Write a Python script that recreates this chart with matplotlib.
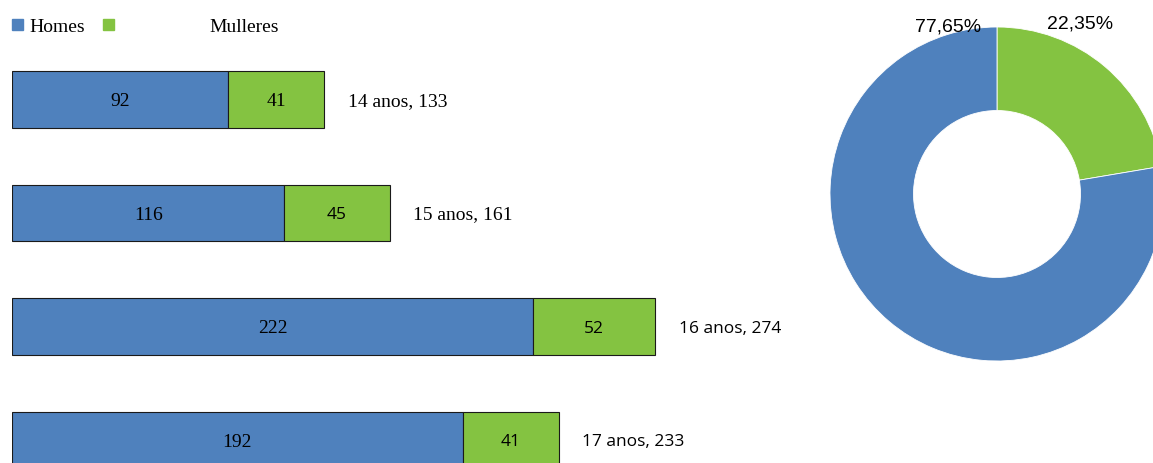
import matplotlib
matplotlib.use('Agg')
import matplotlib.pyplot as plt
from matplotlib.patches import Rectangle

# data
ages = ['14 anos', '15 anos', '16 anos', '17 anos']
homes = [92, 116, 222, 192]
mulleres = [41, 45, 52, 41]
series_names = ['Homes', 'Mulleres']

# style
blue = '#4F81BD'
green = '#84C341'
serif = 'Liberation Serif'
sans = 'Open Sans'
green_label_fonts = [serif, sans, sans, sans]
cat_label_fonts = [serif, serif, sans, sans]

W, H = 1153, 463
fig = plt.figure(figsize=(W / 100, H / 100), dpi=100)

# stacked bars
px_per_unit = 643 / max(h + m for h, m in zip(homes, mulleres))
ax = fig.add_axes([12 / W, 0, 800 / W, 1])
ax.set_xlim(0, 800 / px_per_unit)
ax.set_ylim((H - 99.5) / 113.5, -99.5 / 113.5)
ax.axis('off')

ypos = list(range(len(ages)))
ax.barh(ypos, homes, height=0.5, color=blue, edgecolor='#1a1a1a', linewidth=0.8)
ax.barh(ypos, mulleres, left=homes, height=0.5, color=green, edgecolor='#1a1a1a', linewidth=0.8)

for i, (h, m) in enumerate(zip(homes, mulleres)):
    ax.text(h / 2, i, str(h), ha='center', va='center_baseline', fontsize=14, family=serif)
    ax.text(h + m / 2, i, str(m), ha='center', va='center_baseline',
            fontsize=14 if green_label_fonts[i] == serif else 12.5, family=green_label_fonts[i])
    ax.annotate('{}, {}'.format(ages[i], h + m), (h + m, i), xytext=(17, 0), textcoords='offset points',
                ha='left', va='center_baseline', fontsize=14 if cat_label_fonts[i] == serif else 12.5,
                family=cat_label_fonts[i])

# legend drawn by hand
fig.patches.append(Rectangle((12 / W, 1 - 30 / H), 11 / W, 11 / H, transform=fig.transFigure, color=blue))
fig.patches.append(Rectangle((103 / W, 1 - 30 / H), 11 / W, 11 / H, transform=fig.transFigure, color=green))
fig.text(29 / W, 1 - 25 / H, series_names[0], ha='left', va='center_baseline', fontsize=14, family=serif)
fig.text(209 / W, 1 - 25 / H, series_names[1], ha='left', va='center_baseline', fontsize=14, family=serif)

# donut with the overall shares
tot_h = sum(homes)
tot_m = sum(mulleres)
shares = [tot_m / (tot_h + tot_m) * 100, tot_h / (tot_h + tot_m) * 100]
r = 167
cx, cy = 997, 194
pax = fig.add_axes([(cx - r) / W, (H - cy - r) / H, 2 * r / W, 2 * r / H])
pax.pie(shares, colors=[green, blue], startangle=90, counterclock=False, radius=1,
        wedgeprops=dict(width=0.5, edgecolor='white', linewidth=0.6))
pax.set_xlim(-1, 1)
pax.set_ylim(-1, 1)
pax.set_aspect('auto')
pax.axis('off')

fmt = lambda v: '{:.2f}%'.format(v).replace('.', ',')
pax.text(-0.293, 1.01, fmt(shares[1]), ha='center', va='center_baseline', fontsize=14,
         family='Liberation Sans', clip_on=False)
pax.text(0.497, 1.03, fmt(shares[0]), ha='center', va='center_baseline', fontsize=14,
         family='Liberation Sans', clip_on=False)

fig.savefig('out.png', dpi=100)
